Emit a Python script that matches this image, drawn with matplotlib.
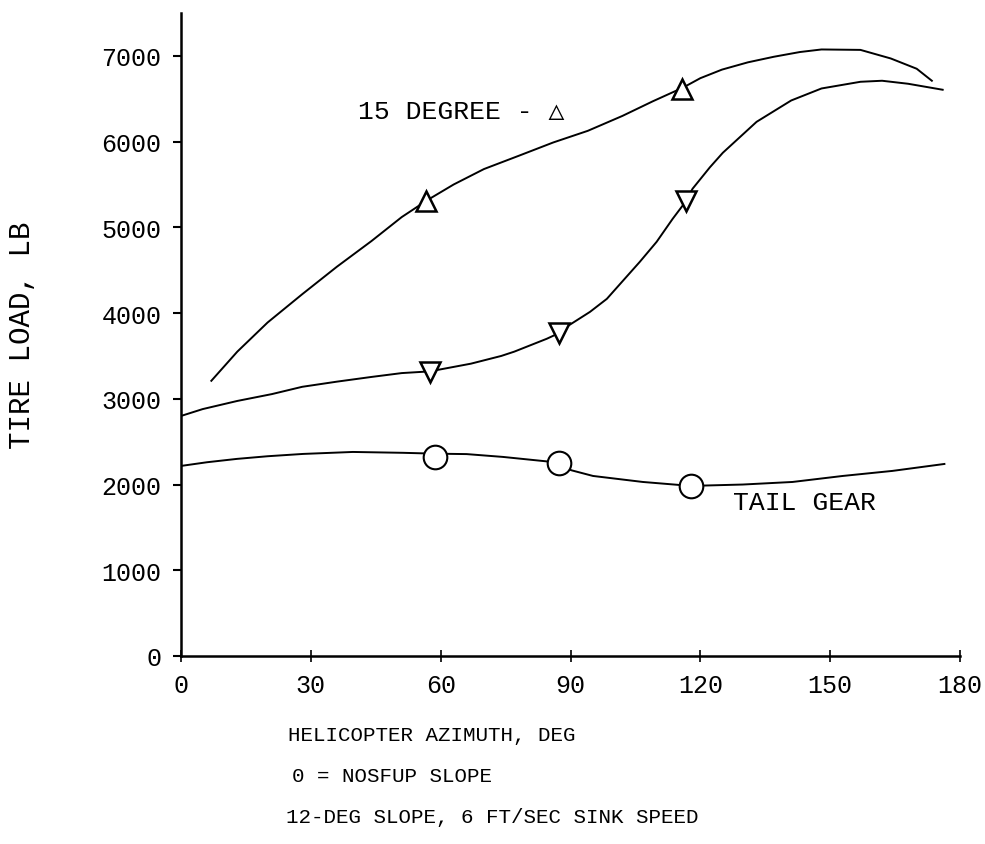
import matplotlib
matplotlib.use('Agg')
import matplotlib.pyplot as plt

# Curve traces (azimuth deg, tire load lb)
deg15_x = [7, 13, 20, 28, 36, 44, 51, 57, 63, 70, 78, 86, 94, 102, 109, 116,
           120, 125, 131, 137, 143, 148, 157, 164, 170, 173.5]
deg15_y = [3210, 3550, 3890, 4220, 4540, 4840, 5120, 5320, 5500, 5680, 5834, 5990,
           6126, 6300, 6470, 6630, 6740, 6840, 6925, 6990, 7045, 7075, 7070, 6970,
           6850, 6710]

main_x = [0, 5, 13, 21, 28, 36, 44, 51, 57.5, 67, 74, 77, 84.5, 87.5, 89.4, 94.5,
          98.4, 102.1, 106, 109.9, 113.6, 116.6, 118.2, 122.2, 125.2, 133, 141, 148,
          157, 162, 168, 176]
main_y = [2800, 2880, 2975, 3055, 3140, 3200, 3255, 3300, 3320, 3410, 3500, 3550,
          3700, 3770, 3850, 4014, 4166, 4376, 4597, 4831, 5099, 5300, 5450, 5700,
          5870, 6231, 6480, 6620, 6698, 6710, 6675, 6605]

tail_x = [0, 6, 12.9, 20, 28.2, 39.7, 51.3, 58.7, 66, 74.4, 84.5, 87.3, 90.3, 95.2,
          106.7, 117.8, 129.8, 141.3, 152.9, 164.4, 176.4]
tail_y = [2217, 2260, 2299, 2330, 2357, 2380, 2370, 2360, 2355, 2322, 2270, 2220,
          2165, 2100, 2030, 1984, 2000, 2030, 2100, 2159, 2240]

# Test points (markers)
deg15_pts_x = [56.6, 115.7]
deg15_pts_y = [5309, 6616]
main_pts_x = [57.5, 87.3, 116.6]
main_pts_y = [3314, 3770, 5309]
tail_pts_x = [58.7, 87.3, 117.8]
tail_pts_y = [2322, 2252, 1984]

x_ticks = [0, 30, 60, 90, 120, 150, 180]
y_ticks = [0, 1000, 2000, 3000, 4000, 5000, 6000, 7000]

MONO = ['Liberation Mono', 'DejaVu Sans Mono', 'DejaVu Sans']
plt.rcParams['font.family'] = MONO

fig = plt.figure(figsize=(9.85, 8.45), dpi=100)
ax = fig.add_axes([0.1838, 0.2225, 0.7908, 0.7609])

lw = 1.4
ax.plot(deg15_x, deg15_y, color='black', linewidth=lw, zorder=2)
ax.plot(main_x, main_y, color='black', linewidth=lw, zorder=2)
ax.plot(tail_x, tail_y, color='black', linewidth=lw, zorder=2)

ax.plot(deg15_pts_x, deg15_pts_y, linestyle='none', marker='^', markersize=15,
        markerfacecolor='white', markeredgecolor='black', markeredgewidth=1.8, zorder=3)
ax.plot(main_pts_x, main_pts_y, linestyle='none', marker='v', markersize=15,
        markerfacecolor='white', markeredgecolor='black', markeredgewidth=1.8, zorder=3)
ax.plot(tail_pts_x, tail_pts_y, linestyle='none', marker='o', markersize=17,
        markerfacecolor='white', markeredgecolor='black', markeredgewidth=1.5, zorder=3)

ax.text(40.9, 6359, '15 DEGREE - \u25b3', fontsize=19, va='center', ha='left',
        family=MONO)
ax.text(127.5, 1797, 'TAIL GEAR', fontsize=19, va='center', ha='left')

ax.set_xlim(0, 180)
ax.set_ylim(0, 7500)
ax.set_xticks(x_ticks)
ax.set_xticklabels([str(v) for v in x_ticks])
ax.set_yticks(y_ticks)
ax.set_yticklabels([str(v) for v in y_ticks])

for side in ['top', 'right']:
    ax.spines[side].set_visible(False)
for side in ['left', 'bottom']:
    ax.spines[side].set_linewidth(1.8)

ax.tick_params(axis='y', direction='out', length=6, width=1.5, labelsize=18, pad=8)
ax.tick_params(axis='x', direction='inout', length=8, width=1.2, labelsize=18, pad=8)

# label right edge sits at ~36 px from the left of the figure
ax.set_ylabel('TIRE LOAD, LB', fontsize=21)
ax.yaxis.set_label_coords(-0.186, 0.5)

fig.text(0.292, 0.130, 'HELICOPTER AZIMUTH, DEG', fontsize=15, va='center', ha='left')
fig.text(0.296, 0.0805, '0 = NOSFUP SLOPE', fontsize=15, va='center', ha='left')
fig.text(0.290, 0.032, '12-DEG SLOPE, 6 FT/SEC SINK SPEED', fontsize=15,
         va='center', ha='left')

plt.savefig('out.png', dpi=100)
plt.close()
